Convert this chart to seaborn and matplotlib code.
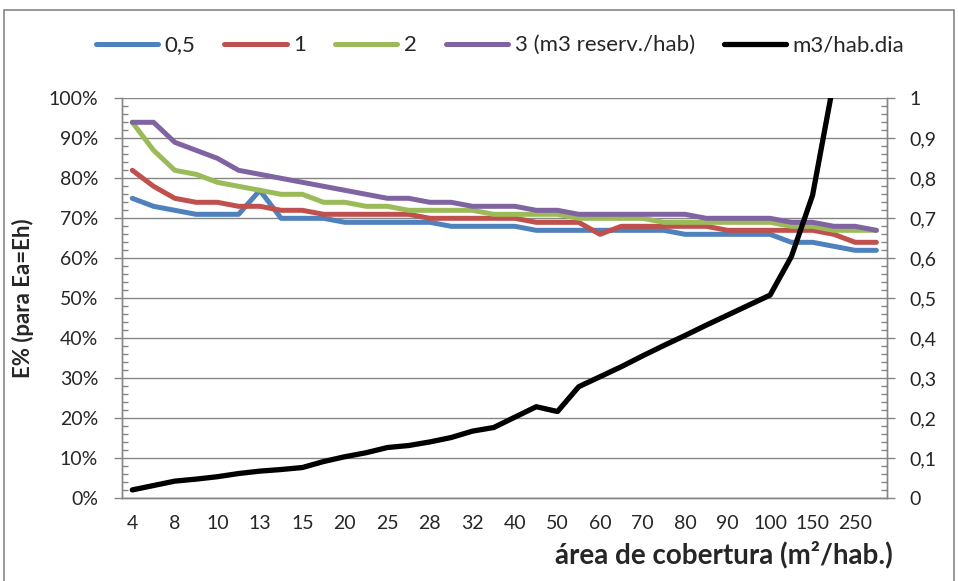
import matplotlib
matplotlib.use("Agg")
import matplotlib.pyplot as plt
import seaborn as sns
import pandas as pd
from matplotlib.patches import Rectangle
from matplotlib.ticker import FixedLocator, MultipleLocator, FuncFormatter

# dados
areas = ['4', '6', '8', '9', '10', '12', '13', '14', '15', '18', '20', '22',
         '25', '27', '28', '30', '32', '35', '40', '45', '50', '55', '60', '65',
         '70', '75', '80', '85', '90', '95', '100', '125', '150', '200', '250', '300']
e_05 = [75, 73, 72, 71, 71, 71, 77, 70, 70, 70, 69, 69, 69, 69, 69, 68, 68, 68,
        68, 67, 67, 67, 67, 67, 67, 67, 66, 66, 66, 66, 66, 64, 64, 63, 62, 62]
e_1 = [82, 78, 75, 74, 74, 73, 73, 72, 72, 71, 71, 71, 71, 71, 70, 70, 70, 70,
       70, 69, 69, 69, 66, 68, 68, 68, 68, 68, 67, 67, 67, 67, 67, 66, 64, 64]
e_2 = [94, 87, 82, 81, 79, 78, 77, 76, 76, 74, 74, 73, 73, 72, 72, 72, 72, 71,
       71, 71, 71, 70, 70, 70, 70, 69, 69, 69, 69, 69, 69, 68, 68, 67, 67, 67]
e_3 = [94, 94, 89, 87, 85, 82, 81, 80, 79, 78, 77, 76, 75, 75, 74, 74, 73, 73,
       73, 72, 72, 71, 71, 71, 71, 71, 71, 70, 70, 70, 70, 69, 69, 68, 68, 67]
m3_hab_dia = [0.021, 0.032, 0.043, 0.048, 0.054, 0.062, 0.068, 0.072, 0.077,
              0.092, 0.104, 0.114, 0.127, 0.132, 0.141, 0.152, 0.168, 0.177,
              0.203, 0.229, 0.217, 0.279, 0.304, 0.329, 0.356, 0.382, 0.407,
              0.433, 0.458, 0.483, 0.508, 0.604, 0.758, 1.044, 1.5, 2.5]

series_names = ['0,5', '1', '2', '3 (m3 reserv./hab)']
series_values = [e_05, e_1, e_2, e_3]
cores = ['#4F81BD', '#C0504D', '#9BBB59', '#8064A2']

sns.set_style("white")
plt.rcParams['font.family'] = ['Lato', 'DejaVu Sans']

pos = list(range(len(areas)))
df = pd.DataFrame({'pos': pos})
for nome, vals in zip(series_names, series_values):
    df[nome] = [v / 100 for v in vals]
df['m3/hab.dia'] = m3_hab_dia

fig = plt.figure(figsize=(9.58, 5.81), dpi=100)
ax = fig.add_axes([0.127, 0.1423, 0.7989, 0.6885])
ax2 = ax.twinx()

cinza = '#868686'

for nome, cor in zip(series_names, cores):
    sns.lineplot(data=df, x='pos', y=nome, ax=ax, color=cor, linewidth=3.6,
                 solid_capstyle='round', label=nome, legend=False)
sns.lineplot(data=df, x='pos', y='m3/hab.dia', ax=ax2, color='black',
             linewidth=3.8, solid_capstyle='round', label='m3/hab.dia', legend=False)

# eixo x (categorias)
ax.set_xlim(-0.5, len(areas) - 0.5)
ax.xaxis.set_major_locator(FixedLocator(pos[::2]))
ax.set_xticklabels(areas[::2])
ax.xaxis.set_minor_locator(FixedLocator([p - 0.5 for p in pos] + [len(areas) - 0.5]))
ax.tick_params(axis='x', which='major', length=0, pad=12, labelsize=14)
ax.tick_params(axis='x', which='minor', length=4, width=1, color=cinza, direction='out')

# eixo esquerdo
ax.set_ylim(0, 1)
ax.yaxis.set_major_locator(MultipleLocator(0.1))
ax.yaxis.set_minor_locator(MultipleLocator(0.02))
ax.yaxis.set_major_formatter(FuncFormatter(lambda v, p: f'{v * 100:.0f}%'))
ax.tick_params(axis='y', which='major', length=6, width=1, color=cinza,
               direction='out', labelsize=14, pad=11)
ax.tick_params(axis='y', which='minor', length=4, width=1, color=cinza, direction='in')
ax.grid(axis='y', which='major', color=cinza, linewidth=1)
ax.set_axisbelow(True)

# eixo direito
ax2.set_ylim(0, 1)
ax2.yaxis.set_major_locator(MultipleLocator(0.1))
ax2.yaxis.set_minor_locator(MultipleLocator(0.02))
ax2.yaxis.set_major_formatter(FuncFormatter(lambda v, p: ('%g' % round(v, 1)).replace('.', ',')))
ax2.tick_params(axis='y', which='major', length=6, width=1, color=cinza,
                direction='out', labelsize=14, pad=10)
ax2.tick_params(axis='y', which='minor', length=4, width=1, color=cinza, direction='in')
ax2.set_ylabel('')
ax.set_xlabel('')
ax.set_ylabel('')

for a in (ax, ax2):
    a.spines['top'].set_visible(False)
    for s in ('left', 'right', 'bottom'):
        a.spines[s].set_color(cinza)
        a.spines[s].set_linewidth(1)

fig.text(0.024, 0.487, 'E% (para Ea=Eh)', rotation=90, ha='center', va='center',
         fontsize=16, fontweight='bold')
fig.text(0.932, 0.045, 'área de cobertura (m²/hab.)', ha='right', va='center',
         fontsize=20, fontweight='bold')

h1, l1 = ax.get_legend_handles_labels()
h2, l2 = ax2.get_legend_handles_labels()
fig.legend(h1 + h2, l1 + l2, loc='center', bbox_to_anchor=(0.522, 0.922), ncol=5,
           frameon=False, fontsize=16, handlelength=2.8, handletextpad=0.3,
           columnspacing=1.3)

fig.add_artist(Rectangle((0.004, -0.05), 0.992, 1.033, transform=fig.transFigure,
                         fill=False, edgecolor=cinza, linewidth=1.2))

fig.savefig('out.png', dpi=100)
